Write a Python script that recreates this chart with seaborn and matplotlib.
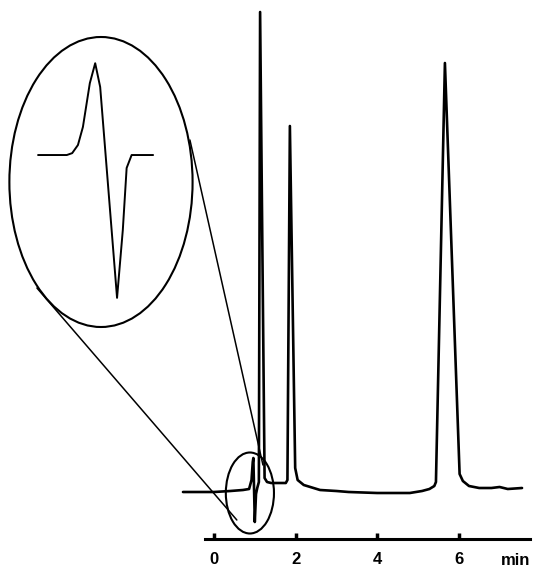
import matplotlib
matplotlib.use("Agg")
import matplotlib.pyplot as plt
from matplotlib.patches import Ellipse
import pandas as pd
import seaborn as sns

# chromatogram trace (time in min, detector signal in arbitrary units)
trace_time = [-0.76, 0.0, 0.40, 0.71, 0.86, 0.92, 0.95, 0.965, 1.00, 1.03, 1.06, 1.10,
              1.13, 1.24, 1.30, 1.40, 1.60, 1.76, 1.80, 1.86, 1.99, 2.05, 2.20, 2.60,
              3.00, 3.30, 4.00, 4.80, 5.10, 5.28, 5.40, 5.44, 5.66, 6.02, 6.10, 6.25,
              6.50, 6.80, 7.00, 7.20, 7.55]
trace_signal = [0, 0, 1, 2, 3, 12, 30, 34, -30, -2, 4, 10,
                480, 14, 10, 9, 9, 9, 12, 366, 24, 12, 7, 2,
                1, 0, -1, -1, 1, 3, 6, 10, 429, 18, 11, 6,
                4, 4, 5, 3, 4]

# magnified view of the system peak
inset_time = [0.800, 0.875, 0.889, 0.904, 0.917, 0.935, 0.949, 0.962, 1.006, 1.021, 1.031,
              1.044, 1.100]
inset_signal = [0.0, 0.0, 0.7, 3.7, 10.4, 26.6, 34.0, 25.2, -52.9, -27.8, -4.8, 0.0, 0.0]

xticks = [0, 2, 4, 6]
xtick_labels = ["0", "2", "4", "6"]

# zoom marks: ellipses (centre t, centre signal, width, height) and connectors
small_ellipse = (0.88, -1, 1.18, 81)
big_ellipse = (-2.77, 310, 4.49, 290)
connector_a = ([-0.59, 1.20], [352, 27])
connector_b = ([-4.34, 0.56], [204, -28])

sns.set_style("white")
plt.rcParams['font.family'] = ['Liberation Sans', 'DejaVu Sans']

fig = plt.figure(figsize=(5.39, 5.69), dpi=100)
ax = fig.add_axes([0, 0, 1, 1])

df = pd.DataFrame({"t": trace_time, "s": trace_signal})
sns.lineplot(data=df, x="t", y="s", ax=ax, color="black", linewidth=1.9,
             estimator=None, sort=False)

ax.set_xlim(-5.245, 7.966)
ax.set_ylim(-77, 492)
for side in ["top", "right", "left"]:
    ax.spines[side].set_visible(False)
ax.spines["bottom"].set_position(("data", -47))
ax.spines["bottom"].set_bounds(-0.22, 7.75)
ax.spines["bottom"].set_linewidth(2.2)
ax.spines["bottom"].set_color("black")
ax.set_yticks([])
ax.set_xticks(xticks)
ax.set_xticklabels(xtick_labels, fontweight="bold", fontsize=12)
ax.tick_params(axis="x", bottom=True, direction="in", length=4, width=2.5, pad=9,
               color="black", labelcolor="black")
ax.set_xlabel("")
ax.set_ylabel("")
ax.text(7.38, -47 - 14, "min", ha="center", va="top", fontweight="bold", fontsize=12,
        color="black")

ax.add_patch(Ellipse(small_ellipse[:2], small_ellipse[2], small_ellipse[3],
                     fill=False, edgecolor="black", linewidth=1.5))
ax.add_patch(Ellipse(big_ellipse[:2], big_ellipse[2], big_ellipse[3],
                     fill=False, edgecolor="black", linewidth=1.5))
ax.plot(*connector_a, color="black", linewidth=1.1)
ax.plot(*connector_b, color="black", linewidth=1.1)

ins = ax.inset_axes([30 / 539, (569 - 310) / 569, 130 / 539, 260 / 569])
idf = pd.DataFrame({"t": inset_time, "s": inset_signal})
sns.lineplot(data=idf, x="t", y="s", ax=ins, color="black", linewidth=1.4,
             estimator=None, sort=False)
ins.set_xlim(0.779, 1.118)
ins.set_ylim(-57.4, 38.9)
ins.set_xlabel("")
ins.set_ylabel("")
ins.set_xticks([])
ins.set_yticks([])
ins.axis("off")
ins.patch.set_alpha(0)

fig.savefig("out.png", dpi=100)
